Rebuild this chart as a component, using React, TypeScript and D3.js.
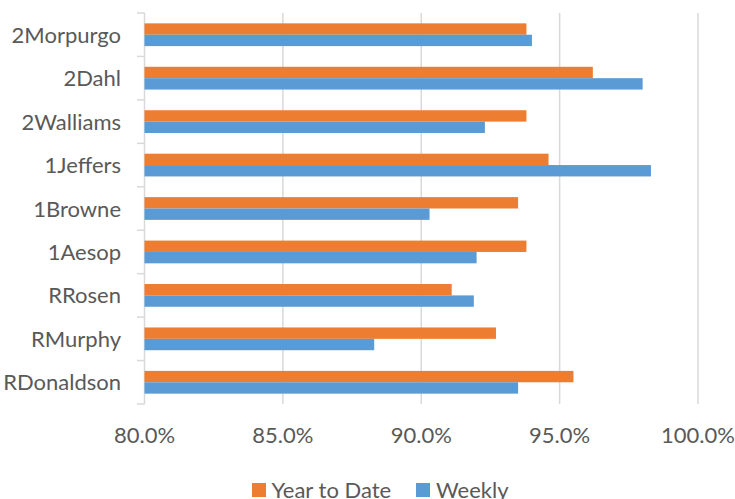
import * as d3 from "d3";

const categories = [
  "2Morpurgo",
  "2Dahl",
  "2Walliams",
  "1Jeffers",
  "1Browne",
  "1Aesop",
  "RRosen",
  "RMurphy",
  "RDonaldson",
];
const yearToDate = [0.938, 0.962, 0.938, 0.946, 0.935, 0.938, 0.911, 0.927, 0.955];
const weekly = [0.94, 0.98, 0.923, 0.983, 0.903, 0.92, 0.919, 0.883, 0.935];
const xTicks = [0.8, 0.85, 0.9, 0.95, 1.0];
const seriesNames = ["Year to Date", "Weekly"];
const seriesColors = ["#ED7D31", "#5B9BD5"];

const width = 735;
const height = 499;
const margin = { top: 13, right: 37, bottom: 95, left: 144.5 };
const font = "Lato, 'Open Sans', sans-serif";
const fontSize = 22;
const textColor = "#595959";
const gridColor = "#d9d9d9";

export default function App() {
  const x = d3
    .scaleLinear()
    .domain([0.8, 1.0])
    .range([margin.left, 698]);
  const y = d3
    .scaleBand()
    .domain(categories)
    .range([margin.top, height - margin.bottom]);
  const inner = d3
    .scaleBand()
    .domain(seriesNames)
    .range([0, y.bandwidth()])
    .paddingInner(0)
    .paddingOuter(0.91);
  const fmt = d3.format(".1%");
  const series = [yearToDate, weekly];
  const bottom = height - margin.bottom;

  return (
    <svg
      width={width}
      height={height}
      style={{ position: "fixed", left: 0, top: 0, background: "#fff" }}
      fontFamily={font}
    >
      {/* grid */}
      {xTicks.slice(1).map((t) => (
        <line
          key={t}
          x1={x(t)}
          x2={x(t)}
          y1={margin.top}
          y2={bottom}
          stroke={gridColor}
          strokeWidth={1.5}
        />
      ))}

      {/* category axis */}
      <line
        x1={margin.left}
        x2={margin.left}
        y1={margin.top}
        y2={bottom}
        stroke={gridColor}
        strokeWidth={1.5}
      />
      {[...categories.map((c) => y(c)!), bottom].map((v, i) => (
        <line
          key={i}
          x1={margin.left - 7.5}
          x2={margin.left}
          y1={v}
          y2={v}
          stroke={gridColor}
          strokeWidth={1.5}
        />
      ))}

      {/* bars */}
      {series.map((vals, si) =>
        categories.map((c, ci) => (
          <rect
            key={`${si}-${c}`}
            x={x(0.8)}
            y={y(c)! + inner(seriesNames[si])!}
            width={x(vals[ci]) - x(0.8)}
            height={inner.bandwidth()}
            fill={seriesColors[si]}
          />
        )),
      )}

      {/* category labels */}
      {categories.map((c) => (
        <text
          key={c}
          x={margin.left - 23.5}
          y={y(c)! + y.bandwidth() / 2 + 8}
          textAnchor="end"
          fontSize={fontSize}
          fill={textColor}
        >
          {c}
        </text>
      ))}

      {/* value axis labels */}
      {xTicks.map((t) => (
        <text
          key={t}
          x={x(t)}
          y={443}
          textAnchor="middle"
          fontSize={fontSize}
          fill={textColor}
        >
          {fmt(t)}
        </text>
      ))}

      {/* legend */}
      <g>
        <rect x={252} y={483} width={14} height={14} fill={seriesColors[0]} />
        <text x={271.5} y={498} fontSize={fontSize} fill={textColor}>
          {seriesNames[0]}
        </text>
        <rect x={416} y={483} width={14} height={14} fill={seriesColors[1]} />
        <text x={436} y={498} fontSize={fontSize} fill={textColor}>
          {seriesNames[1]}
        </text>
      </g>
    </svg>
  );
}
